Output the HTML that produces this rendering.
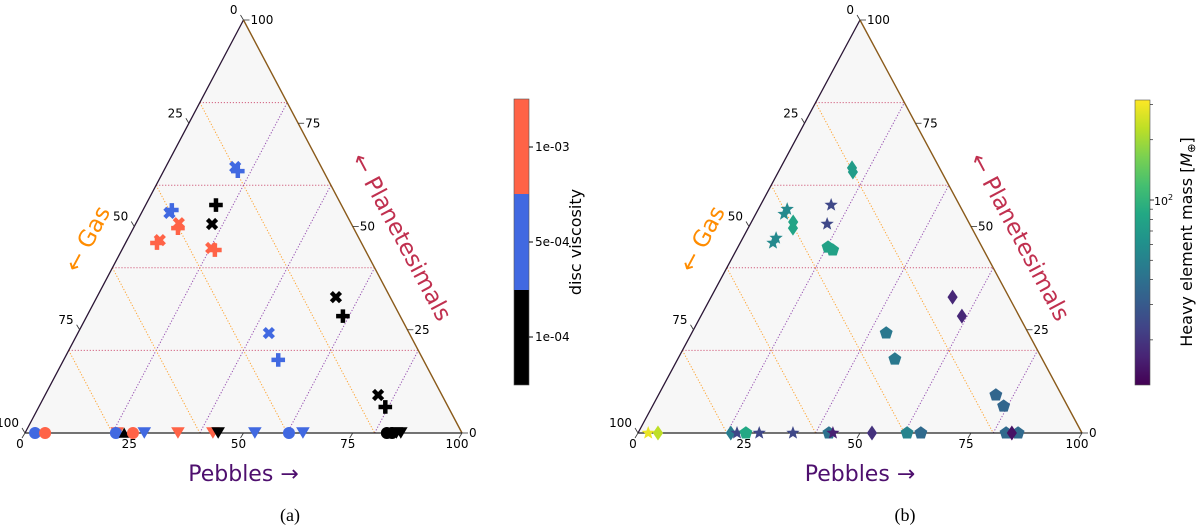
<!DOCTYPE html>
<html><head><meta charset="utf-8">
<style>
body{margin:0;background:#fff;}
svg{display:block;font-family:"DejaVu Sans","Liberation Sans",sans-serif;}
</style></head>
<body>
<svg id="fig" width="1200" height="529" viewBox="0 0 1200 529" xmlns="http://www.w3.org/2000/svg">
<defs>
<linearGradient id="vir" x1="0" y1="1" x2="0" y2="0">
<stop offset="0" stop-color="#440154"/><stop offset="0.1" stop-color="#482475"/><stop offset="0.2" stop-color="#414487"/><stop offset="0.3" stop-color="#355f8d"/><stop offset="0.4" stop-color="#2a788e"/><stop offset="0.5" stop-color="#21918c"/><stop offset="0.6" stop-color="#22a884"/><stop offset="0.7" stop-color="#44bf70"/><stop offset="0.8" stop-color="#7ad151"/><stop offset="0.9" stop-color="#bddf26"/><stop offset="1" stop-color="#fde725"/>
</linearGradient>
</defs>
<g id="panelA"></g>
<g id="panelB"></g>

<g>
<rect x="514" y="99" width="15" height="95" fill="#ff6347"/>
<rect x="514" y="194" width="15" height="96" fill="#4169e1"/>
<rect x="514" y="290" width="15" height="95" fill="#000"/>
<rect x="514" y="99" width="15" height="286" fill="none" stroke="#555" stroke-width="0.6"/>
<line x1="529" y1="147" x2="533" y2="147" stroke="#000"/><line x1="529" y1="242" x2="533" y2="242" stroke="#000"/><line x1="529" y1="337" x2="533" y2="337" stroke="#000"/>
<text x="535" y="151" font-size="12">1e-03</text>
<text x="535" y="246" font-size="12">5e-04</text>
<text x="535" y="341" font-size="12">1e-04</text>
<text transform="translate(581,242) rotate(-90)" text-anchor="middle" font-size="16">disc viscosity</text>
</g>

<g id="massbar">
<rect x="1135" y="100" width="15" height="285" fill="url(#vir)" stroke="#555" stroke-width="0.6"/>
<text x="1154" y="205" font-size="11">10<tspan dy="-5" font-size="8">2</tspan></text>
<text transform="translate(1192,242) rotate(-90)" text-anchor="middle" font-size="16">Heavy element mass [<tspan font-style="italic">M</tspan><tspan font-size="11" dy="3">⊕</tspan><tspan dy="-3">]</tspan></text>
</g>
</svg>
<script>
// ---------- Panel (a) data
const aPebbles = [15.9,17.0,16.1,17.5,6.6,6.4,9.8,10.2,7.5,7.2,20.2,21.3,54.7,58.6,43.7,49.1,76.2,79.3,
  2.3,4.6,21.1,20.8,22.7,24.7,27.3,35.0,43.0,44.2,52.6,60.4,63.6,82.8,84.0,85.0,86.0];
const aPlanetesimals = [64.4,63.4,55.2,50.6,54.0,53.3,50.8,49.6,46.7,46.0,44.8,44.3,32.9,28.3,24.2,17.7,9.2,6.3,
  0,0,0,0,0,0,0,0,0,0,0,0,0,0,0,0,0];
const aMarkers = ['x','p','p','x','p','x','x','p','x','p','x','p','x','p','x','p','x','p',
  'o','o','v','o','^','o','v','v','v','v','v','o','v','o','o','v','v'];
const aViscosity = ['5e-04','5e-04','1e-04','1e-04','5e-04','5e-04','1e-03','1e-03','1e-03','1e-03','1e-03','1e-03','1e-04','1e-04','5e-04','5e-04','1e-04','1e-04',
  '5e-04','1e-03','1e-03','5e-04','1e-04','1e-03','5e-04','1e-03','1e-03','1e-04','5e-04','5e-04','5e-04','1e-04','1e-04','1e-04','1e-04'];
const viscColors = {'1e-03':'#ff6347','5e-04':'#4169e1','1e-04':'#000000'};

// ---------- Panel (b) data
const bPebbles = [16.1,16.8,6.5,6.4,7.5,7.4,9.4,10.1,15.9,17.3,20.3,21.7,54.4,58.8,43.8,48.9,76.0,79.1,
  2.3,4.5,20.9,22.3,24.3,27.3,34.9,43.0,43.9,52.7,60.6,63.7,82.9,85.6,84.2];
const bPlanetesimals = [64.2,63.2,54.2,53.0,47.2,46.0,51.1,49.6,55.2,50.6,45.0,44.3,32.9,28.3,24.2,17.9,9.2,6.5,
  0,0,0,0,0,0,0,0,0,0,0,0,0,0,0];
const bMarkers = ['d','d','*','*','*','*','d','d','*','*','h','h','d','d','h','h','h','h',
  '*','d','d','*','h','*','*','h','*','d','h','h','h','h','d'];
const bMass = [72,72,55,55,55,55,80,80,24,24,77,77,17,17,44,44,35,35,
  286,229,47,24,85,24,24,41,16,19,52,37,37,37,14];

const massMin = 11.9, massMax = 316;
const massTicks = [20,30,40,50,60,70,80,90,200,300];

const NS='http://www.w3.org/2000/svg';
function mk(tag,attrs,parent){const e=document.createElementNS(NS,tag);for(const k in attrs)e.setAttribute(k,attrs[k]);parent.appendChild(e);return e;}

const vir=['#440154','#482475','#414487','#355f8d','#2a788e','#21918c','#22a884','#44bf70','#7ad151','#bddf26','#fde725'];
function hex(h){return [1,3,5].map(i=>parseInt(h.substr(i,2),16));}
function viridis(n){n=Math.max(0,Math.min(1,n));const f=n*10,i=Math.min(9,Math.floor(f)),t=f-i;const a=hex(vir[i]),b=hex(vir[i+1]);
  return 'rgb('+a.map((v,k)=>Math.round(v+(b[k]-v)*t)).join(',')+')';}
function massNorm(m){return Math.log10(m/massMin)/Math.log10(massMax/massMin);}

const mb=document.getElementById('massbar');
massTicks.forEach(m=>{const y=385-285*massNorm(m);
  const l=mk('line',{x1:1150,y1:y,x2:1153,y2:y,stroke:'#000','stroke-width':0.6},mb);
  
  });
{const y=385-285*massNorm(100);mk('line',{x1:1150,y1:y,x2:1154,y2:y,stroke:'#000','stroke-width':0.8},mb);}

function markerPath(m,s){
  switch(m){
    case 'p': {const a=s*0.33,b=s;return `M${-a},${-b}H${a}V${-a}H${b}V${a}H${a}V${b}H${-a}V${a}H${-b}V${-a}H${-a}Z`;}
    case 'v': return `M${-s},${-s*0.85}H${s}L0,${s*0.85}Z`;
    case '^': return `M${-s*0.8},${s*0.7}H${s*0.8}L0,${-s*0.8}Z`;
    case 'd': return `M0,${-s*1.1}L${s*0.75},0L0,${s*1.1}L${-s*0.75},0Z`;
    case 'h': {let p='';for(let i=0;i<5;i++){const an=-Math.PI/2+i*2*Math.PI/5;p+=(i?'L':'M')+(s*Math.cos(an)).toFixed(2)+','+(s*Math.sin(an)).toFixed(2);}return p+'Z';}
    case '*': {let p='';for(let i=0;i<10;i++){const r=i%2?s*0.42:s;const an=-Math.PI/2+i*Math.PI/5;p+=(i?'L':'M')+(r*Math.cos(an)).toFixed(2)+','+(r*Math.sin(an)).toFixed(2);}return p+'Z';}
  }
}

function drawPanel(g,T,pebbles,plan,markers,colors,label,labelX){
  const [BL,BR,TP]=T;
  const pos=(p,t)=>{const gas=100-p-t;return [(gas*BL[0]+p*BR[0]+t*TP[0])/100,(gas*BL[1]+p*BR[1]+t*TP[1])/100];};
  const tri=mk('polygon',{points:[BL,BR,TP].map(q=>q.join(',')).join(' '),fill:'#f7f7f7'},g);
  
  
  [20,40,60,80].forEach(v=>{
    let a=pos(0,v),b=pos(100-v,v);
    let l=mk('line',{x1:a[0],y1:a[1],x2:b[0],y2:b[1],stroke:'#c8385f','stroke-width':1,'stroke-dasharray':'1.2,1.8',opacity:0.8},g);
    
    
    a=pos(0,100-v);b=pos(100-v,0);
    l=mk('line',{x1:a[0],y1:a[1],x2:b[0],y2:b[1],stroke:'#ff9a1a','stroke-width':1,'stroke-dasharray':'1.2,1.8',opacity:0.9},g);
    
    
    a=pos(v,0);b=pos(v,100-v);
    l=mk('line',{x1:a[0],y1:a[1],x2:b[0],y2:b[1],stroke:'#8a3aa8','stroke-width':1,'stroke-dasharray':'1.2,1.8',opacity:0.9},g);
    
    
  });
  let e=mk('line',{x1:BL[0],y1:BL[1],x2:TP[0],y2:TP[1],stroke:'#2a1535','stroke-width':1.3},g);
  
  
  e=mk('line',{x1:BR[0],y1:BR[1],x2:TP[0],y2:TP[1],stroke:'#8a5a1a','stroke-width':1.4},g);
  
  
  e=mk('line',{x1:BL[0],y1:BL[1],x2:BR[0],y2:BR[1],stroke:'#222','stroke-width':1.2},g);
  
  
  [0,25,50,75,100].forEach(v=>{
    let q=pos(v,0);
    mk('line',{x1:q[0],y1:q[1],x2:q[0]-3,y2:q[1]+5,stroke:'#333','stroke-width':0.8},g);
    let t=mk('text',{x:q[0]-5,y:q[1]+15,'font-size':12,'text-anchor':'middle'},g);t.textContent=v;
    
    
    q=pos(0,100-v);
    mk('line',{x1:q[0],y1:q[1],x2:q[0]-3,y2:q[1]-5,stroke:'#333','stroke-width':0.8},g);
    t=mk('text',{x:q[0]-6,y:q[1]-6,'font-size':12,'text-anchor':'end'},g);t.textContent=v;
    
    
    q=pos(100-v,v);
    mk('line',{x1:q[0],y1:q[1],x2:q[0]+6,y2:q[1],stroke:'#333','stroke-width':0.8},g);
    t=mk('text',{x:q[0]+7,y:q[1]+4,'font-size':12},g);t.textContent=v;
    
    
  });
  pebbles.forEach((p,i)=>{
    const q=pos(p,plan[i]);
    const m=markers[i];
    let el;
    if(m==='o'){el=mk('circle',{cx:q[0],cy:q[1],r:6,fill:colors[i]},g);}
    else if(m==='x'){el=mk('path',{d:markerPath('p',6.5),fill:colors[i],transform:`translate(${q[0]},${q[1]}) rotate(45)`},g);}
    else{const s=m==='*'?7:6.8;el=mk('path',{d:markerPath(m,s),fill:colors[i],transform:`translate(${q[0]},${q[1]})`},g);}
    
    
  });
  const cx=(TP[0]+BL[0])/2-40, cy=(TP[1]+BL[1])/2+16;
  let t=mk('text',{transform:`translate(${cx},${cy}) rotate(-62)`,'font-size':23,'text-anchor':'middle',fill:'#ff8c00'},g);
  t.textContent='← Gas';
  
  
  const rx=(TP[0]+BR[0])/2+42, ry=(TP[1]+BR[1])/2+14;
  t=mk('text',{transform:`translate(${rx},${ry}) rotate(62)`,'font-size':23,'text-anchor':'middle',fill:'#c0304f'},g);
  t.textContent='← Planetesimals';
  
  
  t=mk('text',{x:(BL[0]+BR[0])/2,y:481,'font-size':22,'text-anchor':'middle',fill:'#4e0f6e'},g);
  t.textContent='Pebbles →';
  
  
  t=mk('text',{x:labelX,y:521,'font-size':18,'text-anchor':'middle','font-family':'Liberation Serif, serif'},g);
  t.textContent=label;
  
  
}

drawPanel(document.getElementById('panelA'),[[25,433],[462,433],[243.5,20]],aPebbles,aPlanetesimals,aMarkers,aViscosity.map(v=>viscColors[v]),'(a)',290);
drawPanel(document.getElementById('panelB'),[[638,433],[1082,433],[860,20]],bPebbles,bPlanetesimals,bMarkers,bMass.map(m=>viridis(massNorm(m))),'(b)',905);
</script>
</body></html>
